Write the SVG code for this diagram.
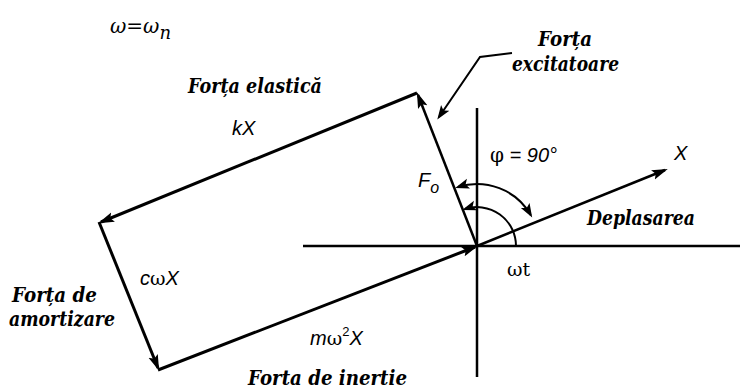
<svg xmlns="http://www.w3.org/2000/svg" width="740" height="389" viewBox="0 0 740 389">
<style>
.lbl{font-family:"DejaVu Serif",serif;font-weight:bold;font-style:italic;font-size:20px;fill:#000}
.sym{font-family:"Liberation Sans",Arial,sans-serif;font-style:italic;font-size:20px;fill:#000}
.grk{font-family:"DejaVu Serif",serif;font-style:normal}
.ax{stroke:#000;stroke-width:2.5;fill:none}
.vec{stroke:#000;stroke-width:3;fill:none}
.thin{stroke:#000;stroke-width:2;fill:none}
</style>
<defs>
<marker id="ah" markerUnits="userSpaceOnUse" markerWidth="18" markerHeight="12" refX="13" refY="5" orient="auto-start-reverse">
<path d="M0,0 L16,5 L0,10 L3,5 z" fill="#000"/>
</marker>
<marker id="ahs" markerUnits="userSpaceOnUse" markerWidth="16" markerHeight="12" refX="11" refY="5" orient="auto-start-reverse">
<path d="M0,0 L14,5 L0,10 L3,5 z" fill="#000"/>
</marker>
</defs>
<g id="connectors">
<line id="axis-h" class="ax" x1="303" y1="246" x2="740" y2="246"/>
<line id="axis-v" class="ax" x1="477" y1="108" x2="477" y2="377"/>
<line id="vec-X" class="ax" x1="477" y1="246" x2="665" y2="170" marker-end="url(#ah)"/>
<line id="vec-Fo" class="ax" x1="477" y1="246" x2="418" y2="95" marker-end="url(#ah)"/>
<line id="vec-kX" class="vec" x1="417" y1="93" x2="101" y2="222" marker-end="url(#ah)"/>
<line id="vec-cwX" class="vec" x1="99" y1="222" x2="158" y2="368" marker-end="url(#ah)"/>
<line id="vec-mw2X" class="vec" x1="158" y1="370" x2="475" y2="247" marker-end="url(#ah)"/>
<path id="arc-phi" class="thin" d="M458,187 A62,62 0 0 1 530.7,215" marker-start="url(#ahs)" marker-end="url(#ahs)"/>
<path id="arc-wt" class="thin" d="M465,209 A39,39 0 0 1 516,246" marker-start="url(#ahs)"/>
<polyline id="leader-Fo" class="thin" points="512,53 480,57 439,117" marker-end="url(#ahs)"/>
</g>
<g id="node-omega"><text x="110" y="33" font-family="DejaVu Serif, serif" font-style="italic" font-size="20">ω=ω<tspan font-size="18" dy="6">n</tspan></text></g>
<g id="node-elastica"><text class="lbl" x="188" y="93" textLength="134" lengthAdjust="spacingAndGlyphs">Forța elastică</text><text class="sym" x="232" y="135">kX</text></g>
<g id="node-excitatoare"><text class="lbl" x="538" y="46" textLength="54" lengthAdjust="spacingAndGlyphs">Forța</text><text class="lbl" x="512" y="71" textLength="107" lengthAdjust="spacingAndGlyphs">excitatoare</text></g>
<g id="node-phi"><text class="sym" x="490" y="162" font-style="normal"><tspan class="grk" font-style="italic" font-size="20">φ</tspan> = 90°</text></g>
<g id="node-X"><text class="sym" x="674" y="160">X</text></g>
<g id="node-Fo"><text class="sym" x="418" y="187">F<tspan font-size="16" dy="6">o</tspan></text></g>
<g id="node-deplasarea"><text class="lbl" x="587" y="225" textLength="108" lengthAdjust="spacingAndGlyphs">Deplasarea</text></g>
<g id="node-wt"><text class="sym" x="507" y="276"><tspan class="grk" font-size="19">ω</tspan><tspan class="grk" font-style="italic" font-size="19">t</tspan></text></g>
<g id="node-amortizare"><text class="lbl" x="12" y="302" textLength="85" lengthAdjust="spacingAndGlyphs">Forța de</text><text class="lbl" x="9" y="326" textLength="106" lengthAdjust="spacingAndGlyphs">amortizare</text><text class="sym" x="140" y="285">c<tspan class="grk" font-size="19">ω</tspan>X</text></g>
<g id="node-inertie"><text class="lbl" x="248" y="385" textLength="159" lengthAdjust="spacingAndGlyphs">Forta de inertie</text><text class="sym" x="310" y="345">m<tspan class="grk" font-size="19">ω</tspan><tspan font-size="13" dy="-9" font-style="normal">2</tspan><tspan dy="9">X</tspan></text></g>
</svg>
